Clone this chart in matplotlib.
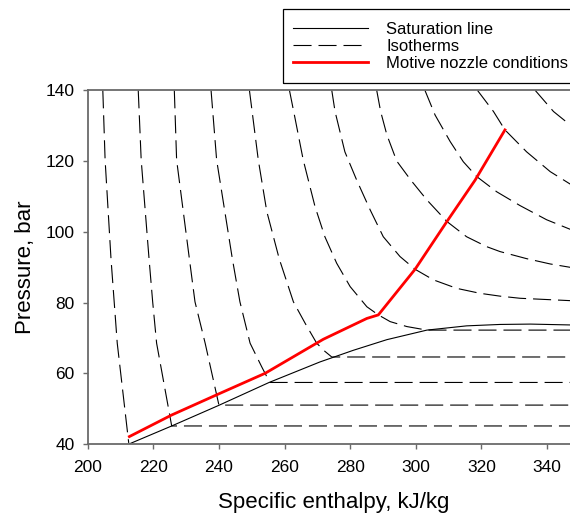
import matplotlib
matplotlib.use("Agg")
import matplotlib.pyplot as plt
from matplotlib.patches import Rectangle

plt.rcParams['font.family'] = ['Liberation Sans', 'DejaVu Sans']
plt.rcParams['lines.scale_dashes'] = False

# saturation line (liquid side up to the critical point), h in kJ/kg, p in bar
sat_h = [212.6, 225.6, 239.9, 255.3, 270.8, 281.0, 291.2, 303.4, 315.5, 325.7, 335.0, 350.0]
sat_p = [40.0, 45.1, 50.9, 57.4, 63.2, 66.5, 69.5, 72.2, 73.4, 73.8, 73.9, 73.6]

# isotherms, left to right as they leave the top of the plot
iso1_h = [204.6, 205.3, 207.1, 209.0, 212.5]
iso1_p = [140, 120.3, 92.3, 68.5, 40.3]
iso2_h = [215.4, 216.3, 218.7, 219.8, 221.0, 225.6, 350]
iso2_p = [140, 120.3, 92.3, 80.2, 68.5, 45.1, 45.1]
iso3_h = [226.4, 227.1, 231.0, 232.7, 235.8, 240.0, 350]
iso3_p = [140, 120.3, 92.3, 80.2, 68.5, 51.0, 51.0]
iso4_h = [237.6, 239.3, 244.1, 246.4, 249.5, 253.0, 255.5, 350]
iso4_p = [140, 120.3, 92.3, 80.2, 68.5, 61.9, 57.4, 57.4]
iso5_h = [249.3, 252.0, 254.6, 258.4, 262.7, 266.3, 269.8, 272.3, 274.4, 350]
iso5_p = [140, 120.3, 105.7, 92.3, 80.2, 74.1, 68.5, 66.2, 64.6, 64.6]
iso6_h = [261.5, 263.2, 265.7, 269.3, 272.3, 275.9, 280.0, 285.1, 288.6, 292.2, 297.3, 303.4, 350]
iso6_p = [140, 132.1, 120.3, 107.1, 98.6, 91.1, 84.5, 78.8, 76.5, 74.6, 73.2, 72.2, 72.2]
iso7_h = [274.4, 275.4, 278.4, 282.0, 286.1, 290.1, 295.2, 299.8, 305.4, 312.5, 319.6, 325.7, 331.8, 350]
iso7_p = [140, 134, 122.6, 114.6, 106.2, 98.6, 93.0, 89.4, 86.4, 84.0, 82.6, 81.8, 81.2, 80.4]
iso8_h = [288.1, 289.3, 291.2, 294.2, 298.5, 303.4, 309.5, 315.5, 321.6, 325.7, 333.8, 341.0, 350]
iso8_p = [140, 134, 127.4, 120, 114.6, 109, 102.9, 98.6, 95.8, 94.4, 92.4, 90.9, 89.5]
iso9_h = [302.8, 305.9, 310.5, 314.5, 318.6, 324.7, 331.8, 339.9, 350]
iso9_p = [140, 133, 125.5, 119.8, 115.6, 111.3, 107.4, 103.4, 99.6]
iso10_h = [318.8, 323.7, 327.2, 333.8, 341.0, 350]
iso10_p = [140, 134, 128.8, 122.6, 117, 111.8]
iso11_h = [336.4, 342.0, 350]
iso11_p = [140, 134, 128.0]

# motive nozzle conditions
motive_h = [212.7, 225.6, 239.3, 254.1, 271.8, 285.1, 288.6, 299.8, 309.5, 318.1, 327.2]
motive_p = [42.1, 48.2, 53.9, 60.0, 69.6, 75.5, 76.5, 89.4, 102.9, 114.6, 128.8]

isotherms = [(iso1_h, iso1_p), (iso2_h, iso2_p), (iso3_h, iso3_p), (iso4_h, iso4_p),
             (iso5_h, iso5_p), (iso6_h, iso6_p), (iso7_h, iso7_p), (iso8_h, iso8_p),
             (iso9_h, iso9_p), (iso10_h, iso10_p), (iso11_h, iso11_p)]

W, H = 570, 513
fig = plt.figure(figsize=(W / 100, H / 100), dpi=100)
# axes run past the right edge of the picture, as in the cropped original
ax = fig.add_axes([0.1539, 0.1345, 0.8632, 0.6895])

dash = (13, 5)
ax.plot(sat_h, sat_p, color='black', lw=0.8, label='Saturation line')
for i, (h, p) in enumerate(isotherms):
    ax.plot(h, p, color='black', lw=0.8, dashes=dash,
            label='Isotherms' if i == 0 else None)
ax.plot(motive_h, motive_p, color='#ff0000', lw=2.0, label='Motive nozzle conditions')

ax.set_xlim(200, 350)
ax.set_ylim(40, 140)
ax.set_xticks(range(200, 351, 20))
ax.set_yticks(range(40, 141, 20))

spine_col = '#6a6a6a'
for side in ['left', 'bottom', 'top', 'right']:
    ax.spines[side].set_color(spine_col)
    ax.spines[side].set_linewidth(1.3)
ax.tick_params(axis='both', which='major', direction='out', length=3.6, width=1.0,
               color=spine_col, labelsize=12.5, labelcolor='black')
ax.tick_params(axis='y', pad=5.8)
ax.tick_params(axis='x', pad=8.0)

ax.set_xlabel('Specific enthalpy, kJ/kg', fontsize=16, labelpad=12)
ax.set_ylabel('Pressure, bar', fontsize=16, labelpad=7)

# legend without its own frame, the box is drawn separately (it runs off the right edge)
fig.legend(loc='upper left', bbox_to_anchor=(292.7 / W, 1 - 21.5 / H),
           fontsize=12, frameon=False, handlelength=4.5, handletextpad=1.1,
           borderpad=0, labelspacing=0.13, borderaxespad=0)
fig.patches.append(Rectangle((282.7 / W, 1 - 83.3 / H), (620 - 282.7) / W, (83.3 - 9) / H,
                             transform=fig.transFigure, fill=False,
                             edgecolor='black', lw=0.9))

fig.savefig('out.png', dpi=100)
